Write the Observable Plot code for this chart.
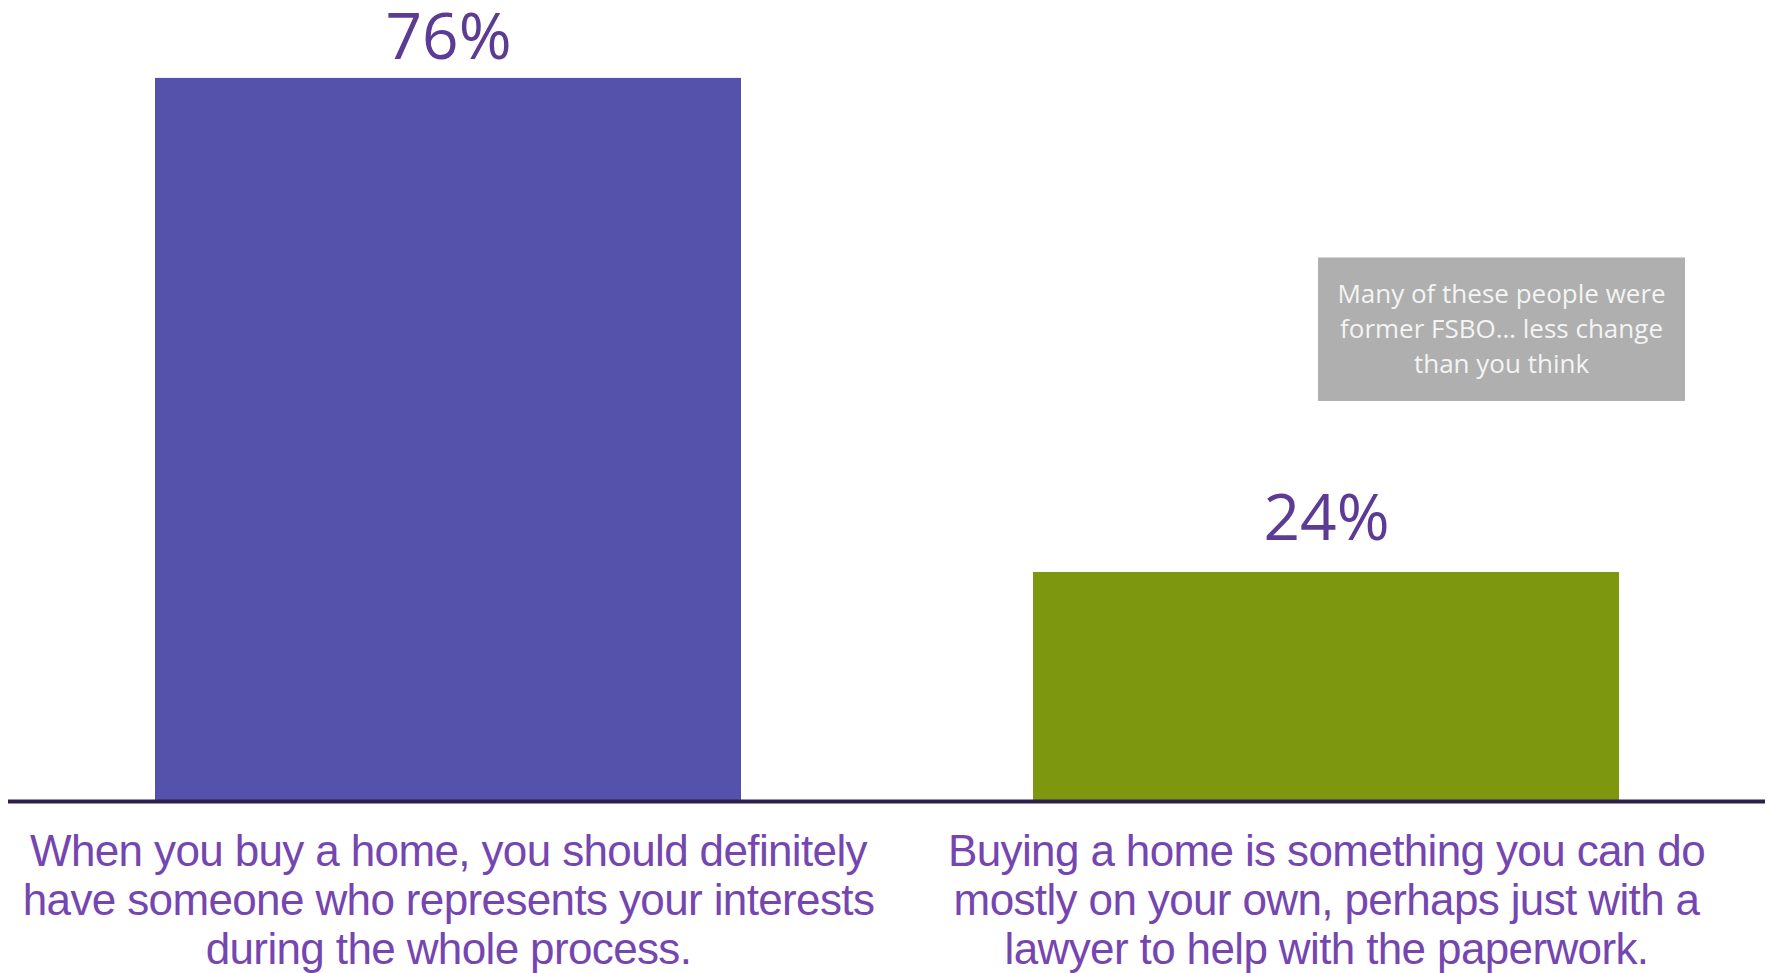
<!DOCTYPE html>
<html><head><meta charset="utf-8">
<script src="https://cdn.jsdelivr.net/npm/d3@7"></script>
<script src="https://cdn.jsdelivr.net/npm/@observablehq/plot@0.6"></script>
<style>
html,body{margin:0;padding:0;background:#fff;overflow:hidden}
</style>
</head><body><div id="chart"></div>
<script>
// ---- data ----
const categories = ["represent", "diy"];
const shares = [76, 24];
const valueLabels = ["76%", "24%"];
const categoryLabels = [
  "When you buy a home, you should definitely\nhave someone who represents your interests\nduring the whole process.",
  "Buying a home is something you can do\nmostly on your own, perhaps just with a\nlawyer to help with the paperwork."
];
const barColors = ["#5552AB", "#7D980E"];
const noteText = ["Many of these people were\nformer FSBO… less change\nthan you think"];
const noteCategory = ["diy"];
const noteLow = [42];
const noteHigh = [57.1];

const data = categories.map((c, i) => ({cat: c, v: shares[i], label: valueLabels[i], text: categoryLabels[i]}));
const note = noteText.map((t, i) => ({cat: noteCategory[i], y1: noteLow[i], y2: noteHigh[i], text: t}));

const valueText = {x: "cat", y: "v", text: "label", lineAnchor: "bottom",
  fontSize: 64, fontFamily: "Open Sans", fill: "#5B3B94"};

const chart = Plot.plot({
  width: 1769,
  height: 973,
  marginTop: 0,
  marginBottom: 173,
  marginLeft: 8,
  marginRight: 4,
  x: {domain: categories, paddingInner: 0.333, paddingOuter: 0.166, axis: null},
  y: {domain: [0, 84.2], axis: null},
  color: {domain: categories, range: barColors},
  marks: [
    Plot.barY(data, {x: "cat", y: "v", fill: "cat"}),
    Plot.ruleY([0], {stroke: "#2F1F4D", strokeWidth: 4, dy: 1}),
    Plot.text(data, {...valueText, filter: (d, i) => i === 0, dy: -19}),
    Plot.text(data, {...valueText, filter: (d, i) => i === 1, dy: -32}),
    Plot.barY(note, {x: "cat", y1: "y1", y2: "y2", fill: "#AEAFAE", insetLeft: 285, insetRight: -66}),
    Plot.text(note, {x: "cat", y: d => (d.y1 + d.y2) / 2, text: "text", dx: 175, dy: -3, lineAnchor: "middle",
      fontSize: 26, lineHeight: 35 / 26, fontFamily: "Open Sans", fill: "#F4F4F4"}),
    Plot.text(data, {x: "cat", y: () => 0, text: "text", lineAnchor: "top", dy: 31,
      fontSize: 44, lineHeight: 49 / 44, fontFamily: "Liberation Sans, Arial", fill: "#7546B0"})
  ]
});
// slightly condensed category labels, like the original
d3.select(chart).selectAll("g").filter(function () {
  const f = this.getAttribute("font-family");
  return f && f.indexOf("Liberation") === 0;
}).style("letter-spacing", "-0.63px");
document.getElementById("chart").appendChild(chart);
</script>
</body></html>
